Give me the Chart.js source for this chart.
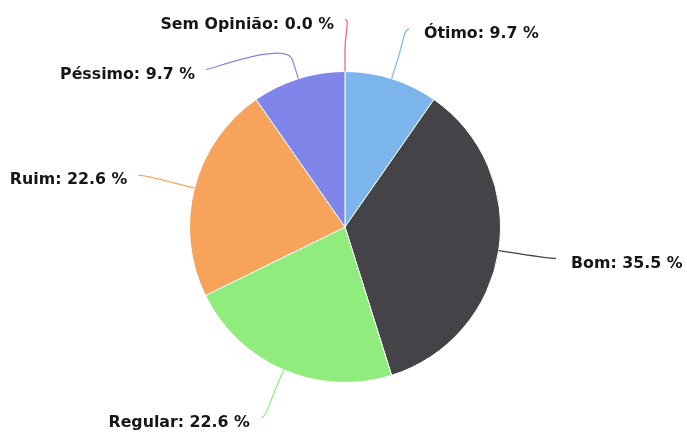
<!DOCTYPE html>
<html>
<head>
<meta charset="utf-8">
<script src="https://cdn.jsdelivr.net/npm/chart.js@4"></script>
<style>
html, body { margin: 0; padding: 0; background: #fff; }
#wrap { width: 687px; height: 432px; position: relative; }
</style>
</head>
<body>
<div id="wrap"><canvas id="pie"></canvas></div>
<script>
const labels = ['Ótimo', 'Bom', 'Regular', 'Ruim', 'Péssimo', 'Sem Opinião'];
const values = [9.7, 35.5, 22.6, 22.6, 9.7, 0.0];
const colors = ['#7cb5ec', '#434348', '#90ed7d', '#f7a35c', '#8085e9', '#f15c80'];

// label ring, a bit wider than tall like the original
const distX = 58;
const distY = 52;
const connectorOffset = 20;
const minGap = 50;

const pieLabels = {
    id: 'pieLabels',
    afterDatasetsDraw(chart) {
        const c = chart.ctx;
        const arcs = chart.getDatasetMeta(0).data;

        const items = arcs.map((arc, i) => {
            const p = arc.getProps(['x', 'y', 'startAngle', 'endAngle', 'outerRadius']);
            const a = (p.startAngle + p.endAngle) / 2;
            return {
                i, a,
                cx: p.x, cy: p.y, r: p.outerRadius,
                rx: p.outerRadius + distX, ry: p.outerRadius + distY,
                y: p.y + (p.outerRadius + distY) * Math.sin(a),
                left: a > Math.PI / 2
            };
        });

        // push overlapping labels apart on each side
        [true, false].forEach(side => {
            const list = items.filter(it => it.left === side).sort((u, v) => u.y - v.y);
            for (let k = 1; k < list.length; k++) {
                if (list[k].y < list[k - 1].y + minGap) list[k].y = list[k - 1].y + minGap;
            }
        });

        c.save();
        items.forEach(it => {
            const dir = it.left ? -1 : 1;
            const dy = (it.y - it.cy) / it.ry;
            const x = it.cx + dir * it.rx * Math.sqrt(Math.max(0, 1 - dy * dy));
            const cos = Math.cos(it.a), sin = Math.sin(it.a);
            const bx = it.cx + it.r * cos, by = it.cy + it.r * sin;
            const b2x = it.cx + (it.r + connectorOffset) * cos;
            const b2y = it.cy + (it.r + connectorOffset) * sin;

            c.beginPath();
            c.moveTo(x, it.y);
            c.bezierCurveTo(x - dir * 5, it.y, 2 * b2x - bx, 2 * b2y - by, b2x, b2y);
            c.lineTo(bx, by);
            c.strokeStyle = colors[it.i];
            c.lineWidth = 1.2;
            c.stroke();

            const text = labels[it.i] + ': ' + values[it.i].toFixed(1) + ' %';
            const tx = x + dir * (it.left ? 11 : 15);
            c.font = 'bold 15.8px "DejaVu Sans", Verdana, sans-serif';
            c.textAlign = it.left ? 'right' : 'left';
            c.textBaseline = 'middle';
            c.lineJoin = 'round';
            c.strokeStyle = 'rgba(255,255,255,0.8)';
            c.lineWidth = 3;
            c.strokeText(text, tx, it.y + 5);
            c.fillStyle = '#161616';
            c.fillText(text, tx, it.y + 5);
        });
        c.restore();
    }
};

new Chart(document.getElementById('pie'), {
    type: 'pie',
    data: {
        labels: labels,
        datasets: [{
            data: values,
            backgroundColor: colors,
            borderColor: '#fff',
            borderWidth: 1
        }]
    },
    options: {
        responsive: true,
        maintainAspectRatio: false,
        animation: false,
        layout: { padding: { top: 71, bottom: 49, left: 189, right: 186 } },
        plugins: {
            legend: { display: false },
            tooltip: { enabled: false }
        }
    },
    plugins: [pieLabels]
});
</script>
</body>
</html>
